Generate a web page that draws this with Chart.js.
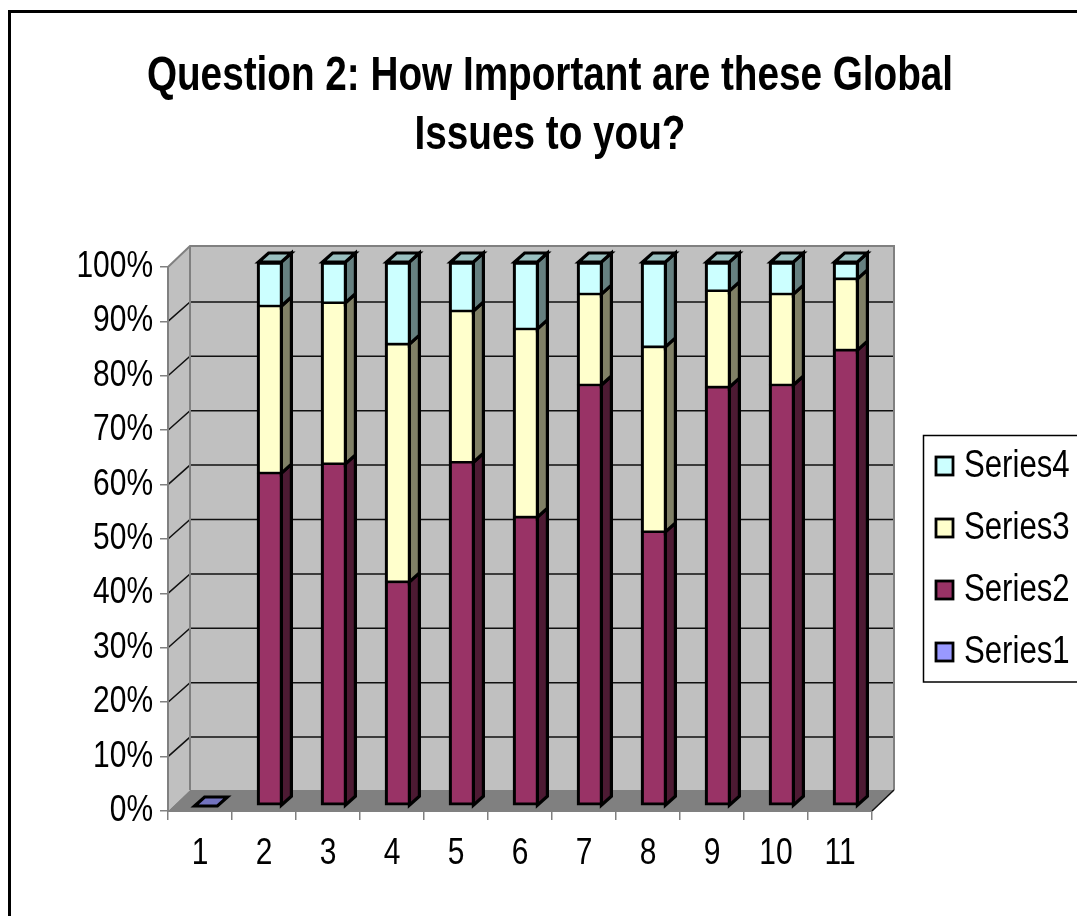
<!DOCTYPE html>
<html>
<head>
<meta charset="utf-8">
<title>Question 2</title>
<script src="https://cdn.jsdelivr.net/npm/chart.js@4"></script>
<style>
  html, body { margin: 0; padding: 0; background: #fff; overflow: hidden; }
  canvas { display: block; }
</style>
</head>
<body>
<canvas id="chart" width="1077" height="916"></canvas>
<script>
const categories = ['1', '2', '3', '4', '5', '6', '7', '8', '9', '10', '11'];
const series1 = [0, 0, 0, 0, 0, 0, 0, 0, 0, 0, 0];
const series2 = [0, 61.2, 62.9, 41.2, 63.2, 53.1, 77.4, 50.4, 77.0, 77.4, 83.8];
const series3 = [0, 30.7, 29.6, 43.7, 27.8, 34.6, 16.7, 34.0, 17.7, 16.7, 13.1];
const series4 = [0, 8.1, 7.5, 15.1, 9.0, 12.3, 5.9, 15.6, 5.3, 5.9, 3.1];
const seriesNames = ['Series1', 'Series2', 'Series3', 'Series4'];
const seriesColors = ['#9999ff', '#993366', '#ffffcc', '#ccffff'];
const sideColors = ['#4d4d80', '#4d1a33', '#808066', '#668080'];
const topColors = ['#7373bf', '#732650', '#bfbf99', '#99bfbf'];
const titleLines = ['Question 2: How Important are these Global', 'Issues to you?'];

const FONT = "'Liberation Sans', Arial, sans-serif";
const TEXT_SQUEEZE = 0.82;        // the picture's text is narrower than the font
const WALL_X = 22, WALL_Y = -21;  // back wall offset from the front axis
const GRID_Y = -19.5;             // grid lines meet the back wall a bit lower
const BAR_X = 6, BAR_Y = -5;      // bar front face offset from the front axis
const DEPTH_X = 10, DEPTH_Y = -9; // bar depth
const BAR_LINE = 3.2;

// neighbouring segments share a line, so each gives half of it
function barBorder(i) {
  return {
    left: BAR_LINE,
    right: BAR_LINE,
    top: i === seriesNames.length - 1 ? BAR_LINE : BAR_LINE / 2,
    bottom: i <= 1 ? BAR_LINE : BAR_LINE / 2
  };
}

function poly(ctx, pts, fill, stroke, lw) {
  ctx.beginPath();
  pts.forEach((p, i) => i ? ctx.lineTo(p[0], p[1]) : ctx.moveTo(p[0], p[1]));
  ctx.closePath();
  if (fill) { ctx.fillStyle = fill; ctx.fill(); }
  if (stroke) { ctx.strokeStyle = stroke; ctx.lineWidth = lw; ctx.stroke(); }
}

// frame, walls, floor and grid lines
const wallsPlugin = {
  id: 'walls',
  afterLayout(chart) {
    chart.titleBlock.left = 23;
    chart.titleBlock.right = 1077;
  },
  beforeDraw(chart) {
    const ctx = chart.ctx, a = chart.chartArea, y = chart.scales.y;
    ctx.save();
    ctx.strokeStyle = '#000';
    ctx.lineWidth = 3;
    ctx.strokeRect(9.5, 11.5, 1100, 1000);
    const l = a.left, r = a.right, t = a.top, b = a.bottom;
    const bl = l + WALL_X, br = r + WALL_X, bt = t + WALL_Y, bb = b + WALL_Y;
    poly(ctx, [[bl, bt], [br, bt], [br, bb], [bl, bb]], '#c0c0c0');
    poly(ctx, [[l, t], [bl, bt], [bl, bb], [l, b]], '#c0c0c0');
    poly(ctx, [[l, b], [bl, bb], [br, bb], [r, b]], '#808080');
    ctx.lineWidth = 1.5;
    ctx.strokeStyle = '#111';
    y.ticks.forEach(tick => {
      if (tick.value === 0 || tick.value === 100) return;
      const py = y.getPixelForValue(tick.value);
      ctx.beginPath();
      ctx.moveTo(l, py);
      ctx.lineTo(bl, py + GRID_Y);
      ctx.lineTo(br, py + GRID_Y);
      ctx.stroke();
    });
    ctx.strokeStyle = '#808080';
    ctx.lineWidth = 2;
    ctx.beginPath();
    ctx.moveTo(l, t); ctx.lineTo(bl, bt); ctx.lineTo(br, bt); ctx.lineTo(br, bb);
    ctx.moveTo(bl, bt); ctx.lineTo(bl, bb);
    ctx.moveTo(l, t); ctx.lineTo(l, b);
    ctx.moveTo(l, b); ctx.lineTo(r, b);
    ctx.stroke();
    ctx.strokeStyle = '#111';
    ctx.lineWidth = 1.5;
    ctx.beginPath();
    ctx.moveTo(r, b); ctx.lineTo(br, bb);
    ctx.stroke();
    ctx.restore();
  },
  beforeDatasetsDraw(chart) {
    chart.ctx.save();
    chart.ctx.translate(BAR_X, BAR_Y);
  },
  afterDatasetsDraw(chart) {
    const ctx = chart.ctx;
    ctx.lineJoin = 'miter';
    chart.data.datasets.forEach((ds, d) => {
      chart.getDatasetMeta(d).data.forEach((el, i) => {
        const p = el.getProps(['x', 'y', 'base', 'width'], true);
        const right = p.x + p.width / 2 - BAR_LINE / 2, left = p.x - p.width / 2 + BAR_LINE / 2;
        if (ds.data[i] > 0) {
          poly(ctx, [[right, p.y], [right + DEPTH_X, p.y + DEPTH_Y], [right + DEPTH_X, p.base + DEPTH_Y], [right, p.base]],
            sideColors[d], '#000', BAR_LINE);
        }
        let last = 0;
        chart.data.datasets.forEach((o, k) => { if (o.data[i] > 0) last = k; });
        if (last === d) {
          poly(ctx, [[left, p.y], [left + DEPTH_X, p.y + DEPTH_Y], [right + DEPTH_X, p.y + DEPTH_Y], [right, p.y]],
            topColors[d], '#000', BAR_LINE);
        }
      });
    });
    ctx.restore();
  },
  afterDraw(chart) {
    // legend box, top series first
    const ctx = chart.ctx;
    ctx.save();
    ctx.fillStyle = '#fff';
    ctx.strokeStyle = '#000';
    ctx.lineWidth = 1.5;
    ctx.fillRect(923, 435, 160, 247);
    ctx.strokeRect(923.5, 435.5, 160, 246.5);
    ctx.font = '38px ' + FONT;
    ctx.textBaseline = 'middle';
    seriesNames.slice().reverse().forEach((name, i) => {
      const d = seriesNames.length - 1 - i;
      const cy = 465 + i * 62;
      ctx.fillStyle = seriesColors[d];
      ctx.fillRect(936, cy - 8, 17, 18);
      ctx.strokeStyle = '#000';
      ctx.lineWidth = BAR_LINE - 0.4;
      ctx.strokeRect(936, cy - 8, 17, 18);
      ctx.fillStyle = '#000';
      ctx.fillText(name, 964, cy + 2);
    });
    ctx.restore();
  }
};

const canvas = document.getElementById('chart');
const rawCtx = canvas.getContext('2d');

// squeeze every label sideways around its anchor
const plainFillText = rawCtx.fillText;
rawCtx.fillText = function (text, x, y) {
  this.save();
  this.translate(x, y);
  this.scale(TEXT_SQUEEZE, 1);
  plainFillText.call(this, text, 0, 0);
  this.restore();
};

new Chart(canvas, {
  type: 'bar',
  data: {
    labels: categories,
    datasets: [series1, series2, series3, series4].map((values, i) => ({
      label: seriesNames[i],
      data: values,
      backgroundColor: seriesColors[i],
      borderColor: '#000',
      borderWidth: barBorder(i),
      borderSkipped: false,
      barThickness: 26,
      clip: false
    }))
  },
  options: {
    responsive: false,
    animation: false,
    layout: { padding: { left: 0, right: 205, top: 0, bottom: 0 } },
    scales: {
      x: {
        stacked: true,
        afterFit(scale) { scale.height = 105; },
        grid: { drawOnChartArea: false, drawTicks: true, tickLength: 9, color: '#808080', lineWidth: 1.5 },
        border: { display: false },
        ticks: { color: '#000', font: { family: FONT, size: 36.5 }, padding: 12, maxRotation: 0, autoSkip: false }
      },
      y: {
        stacked: true,
        min: 0,
        max: 100,
        afterFit(scale) { scale.width = 168; },
        grid: { drawOnChartArea: false, drawTicks: true, tickLength: 8, color: '#808080', lineWidth: 1.5 },
        border: { display: false },
        ticks: { stepSize: 10, color: '#000', font: { family: FONT, size: 36.5 }, padding: 7, callback: v => v + '%' }
      }
    },
    plugins: {
      legend: { display: false },
      tooltip: { enabled: false },
      title: {
        display: true,
        text: titleLines,
        color: '#000',
        font: { family: FONT, size: 47.2, weight: 'bold', lineHeight: 59 / 47.2 },
        padding: { top: 47, bottom: 102 }
      }
    }
  },
  plugins: [wallsPlugin]
});
</script>
</body>
</html>
